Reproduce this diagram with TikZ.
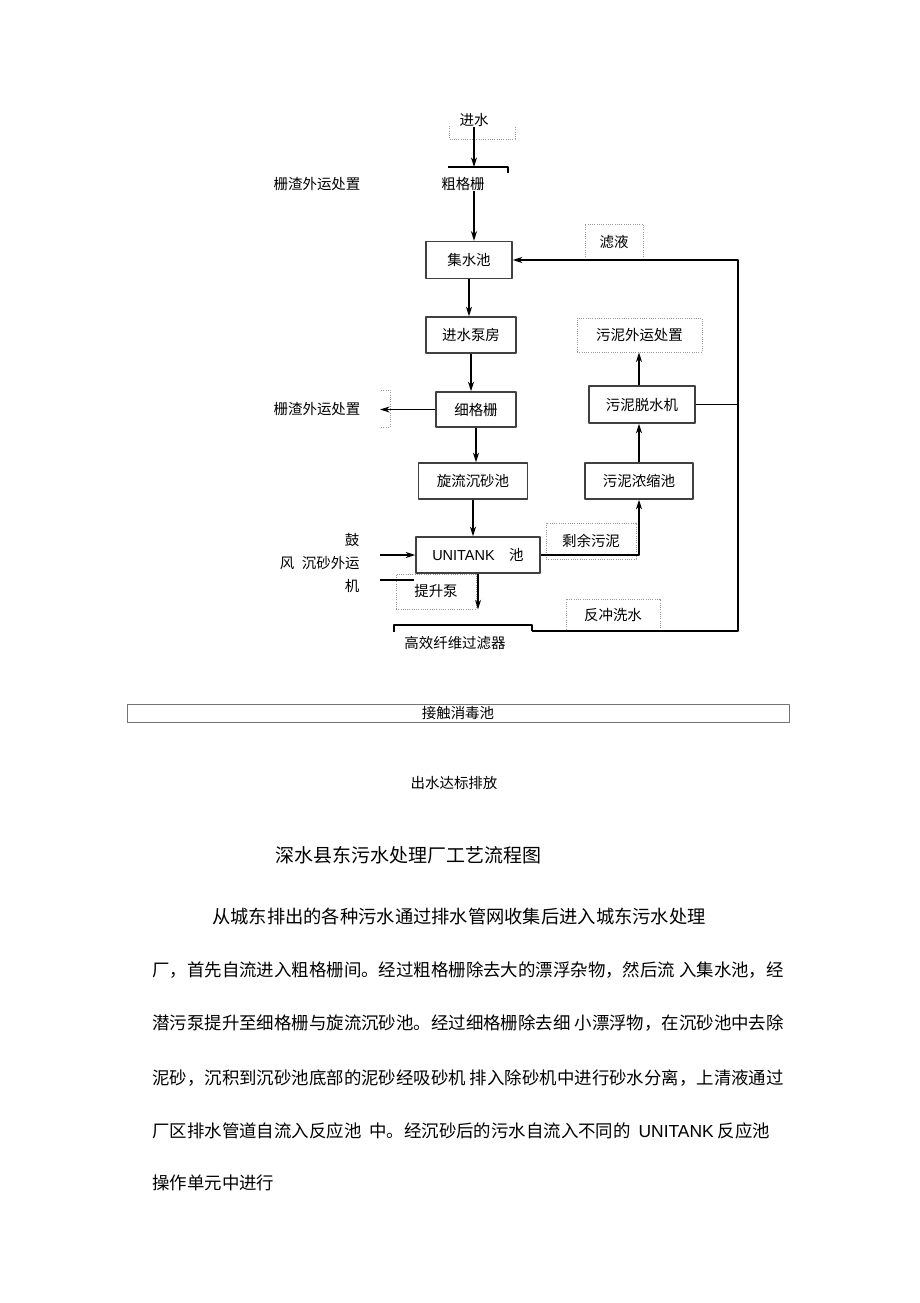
\documentclass[tikz,border=0pt]{standalone}
\usepackage{fontspec}
\usetikzlibrary{arrows.meta}
\setmainfont{Liberation Sans}
\newfontfamily\cjk{Noto Sans CJK SC}
\begin{document}
\begin{tikzpicture}[x=0.25mm, y=-0.25mm, line join=round, >={Stealth[length=2.4mm,width=1.5mm]}]
	\tikzset{every node/.style={font=\cjk\fontsize{10.3}{12}\selectfont, inner sep=0pt},
		box/.style={draw=black!75, line width=1pt},
		lbox/.style={draw=black!40, densely dotted, line width=0.6pt},
		flow/.style={->, line width=1pt},
		pipe/.style={line width=1pt},
		para/.style={anchor=west, font=\cjk\fontsize{12.4}{14}\selectfont}}
	\def\u{0.25mm}
	\fill[white] (0,0) rectangle (920,1303);
	\useasboundingbox (0,0) rectangle (920,1303);
	\node (in) at (474,120) {进水};
	\node (cgs) at (463,184) {粗格栅};
	\node (zz1) at (317,184) {栅渣外运处置};
	\node (zz2) at (317,409) {栅渣外运处置};
	\node[box, minimum width=86*\u, minimum height=37*\u] (jss) at (469,260) {集水池};
	\node[box, minimum width=90*\u, minimum height=36*\u] (jsbf) at (471,335) {进水泵房};
	\node[box, minimum width=80*\u, minimum height=35*\u] (xgs) at (476,409.5) {细格栅};
	\node[box, minimum width=109*\u, minimum height=36*\u] (xlcs) at (473,481) {旋流沉砂池};
	\node[box, minimum width=124*\u, minimum height=36*\u] (uni) at (478,555) {{\normalfont UNITANK}\quad 池};
	\node[lbox, minimum width=58*\u, minimum height=36*\u] (ly) at (614,242) {滤液};
	\node[lbox, minimum width=125*\u, minimum height=34*\u] (wnwy) at (639.5,335) {污泥外运处置};
	\node[box, minimum width=106*\u, minimum height=37*\u] (wntsj) at (642,404.5) {污泥脱水机};
	\node[box, minimum width=108*\u, minimum height=36*\u] (wnnsc) at (639,481) {污泥浓缩池};
	\node[lbox, minimum width=90*\u, minimum height=36*\u] (synn) at (591,541) {剩余污泥};
	\node[lbox, minimum width=80*\u, minimum height=35*\u] (tsb) at (436,591.5) {提升泵};
	\node[lbox, minimum width=94*\u, minimum height=32*\u] (fcxs) at (613,615) {反冲洗水};
	\node (gu) at (352,540) {鼓};
	\node (feng) at (287,563) {风};
	\node[anchor=east] (cswy) at (360,563) {沉砂外运};
	\node (ji) at (352,586) {机};
	\node (gxq) at (455,643) {高效纤维过滤器};
	\node[draw=black!55, line width=0.6pt, minimum width=662*\u, minimum height=18*\u] (jcxd) at (458,713) {接触消毒池};
	\node (cs) at (454,783) {出水达标排放};
	\coordinate (cgsl) at (448,167);
	\coordinate (zdEnd) at (380,409.5);
	\coordinate (gfIn) at (380,555);
	\coordinate (gfOut) at (380,580);
	\coordinate (gxqR) at (532,631);
	\coordinate (rt) at (738,631);
	\draw[lbox] (449,126) -- (449,139) -- (515,139) -- (515,126);
	\draw[flow] (in.south) -- (in.south |- cgsl);
	\draw[pipe] (cgsl) -- (508,167) -- (508,173);
	\draw[flow] (cgs.south -| in) -- (jss.north -| in);
	\draw[flow] (jss.south) -- (jss.south |- jsbf.north);
	\draw[flow] (jsbf.south) -- (jsbf.south |- xgs.north);
	\draw[flow] (xgs.south) -- (xgs.south |- xlcs.north);
	\draw[flow] (xlcs.south) -- (xlcs.south |- uni.north);
	\draw[flow] (uni.south) -- (uni.south |- tsb.south);
	\draw[flow] (xgs.west) -- (zdEnd);
	\draw[lbox] (381,390) -- (390,390) -- (390,427) -- (381,427);
	\draw[flow] (gfIn) -- (uni.west);
	\draw[pipe] (gfOut) -- ++(34,0);
	\draw[flow] (uni.east) -| (wnnsc.south);
	\draw[flow] (wnnsc.north) -- (wnnsc.north |- wntsj.south);
	\draw[flow] (wntsj.north -| wnnsc) -- (wnwy.south -| wnnsc);
	\draw[pipe] (394,632) -- (394,625) -- (532,625) -- (gxqR);
	\draw[flow] (gxqR) -- (rt) |- (jss.east);
	\draw[pipe] (wntsj.east) -- (wntsj.east -| rt);
	\node[font=\cjk\fontsize{13.5}{16}\selectfont] (title) at (408.5,855) {深水县东污水处理厂工艺流程图};
	\node[para, font=\cjk\fontsize{13}{15}\selectfont] (p1) at (212,917) {从城东排出的各种污水通过排水管网收集后进入城东污水处理};
	\node[para] (p2) at (152,970) {厂，首先自流进入粗格栅间。经过粗格栅除去大的漂浮杂物，然后流 入集水池，经};
	\node[para] (p3) at (152,1023) {潜污泵提升至细格栅与旋流沉砂池。经过细格栅除去细 小漂浮物，在沉砂池中去除};
	\node[para] (p4) at (152,1078) {泥砂，沉积到沉砂池底部的泥砂经吸砂机 排入除砂机中进行砂水分离，上清液通过};
	\node[para] (p5) at (152,1131) {厂区排水管道自流入反应池\ \ 中。经沉砂后的污水自流入不同的\ \ {\normalfont UNITANK} 反应池};
	\node[para] (p6) at (152,1183) {操作单元中进行};
\end{tikzpicture}
\end{document}
